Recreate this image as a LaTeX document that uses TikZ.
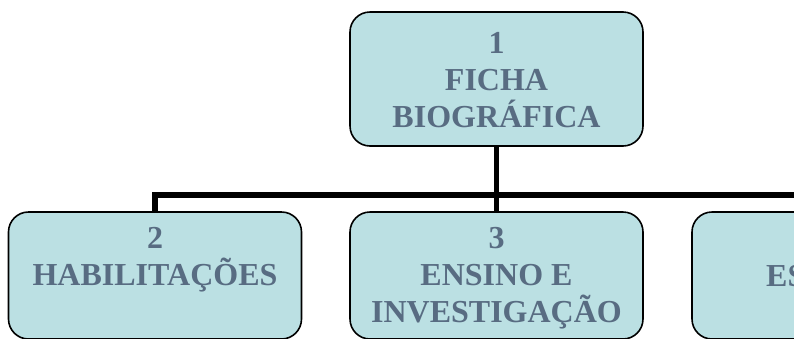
\documentclass[tikz,border=0pt]{standalone}
\usepackage{fontspec}
\setmainfont{Liberation Serif}
\usetikzlibrary{backgrounds}
\definecolor{boxfill}{RGB}{187,224,227}
\definecolor{boxtext}{RGB}{88,108,130}
\begin{document}
\begin{tikzpicture}[x=1pt,y=-1pt,
  orgbox/.style={draw=black,line width=1.6pt,fill=boxfill,rounded corners=20pt,
    minimum width=293pt,inner sep=0pt},
  lbl/.style={align=center,text=boxtext,inner sep=0pt,
    font=\fontsize{32}{37}\selectfont\bfseries},
  bus/.style={line width=5.5pt,draw=black}]
\useasboundingbox (0,0) rectangle (794,338);
\clip (0,0) rectangle (794,338);
\node[orgbox,minimum height=134pt] (top) at (496.5,79) {};
\node[orgbox,minimum height=127pt] (hab) at (155,275.5) {};
\node[orgbox,minimum height=127pt] (ens) at (496.5,275.5) {};
\node[orgbox,minimum height=127pt] (est) at (838.5,275.5) {};
\node[lbl] (toplbl) at ([yshift=-1pt]top.center) {1\\FICHA\\BIOGRÁFICA};
\node[lbl] (hablbl) at ([yshift=-3pt]hab.center) {2\\HABILITAÇÕES\\\vphantom{INVESTIGAÇÃO}};
\node[lbl] (enslbl) at ([yshift=-3pt]ens.center) {3\\ENSINO E\\INVESTIGAÇÃO};
\node[lbl,anchor=base west] (estlbl) at (766,286) {ES};
\begin{scope}[on background layer]
\coordinate (hub) at (496.5,195);
\draw[bus] (top.south) -- (hub);
\draw[bus] (hab.north) |- (hub) -| (est.north);
\draw[bus] (hub) -- (ens.north);
\end{scope}
\end{tikzpicture}
\end{document}
